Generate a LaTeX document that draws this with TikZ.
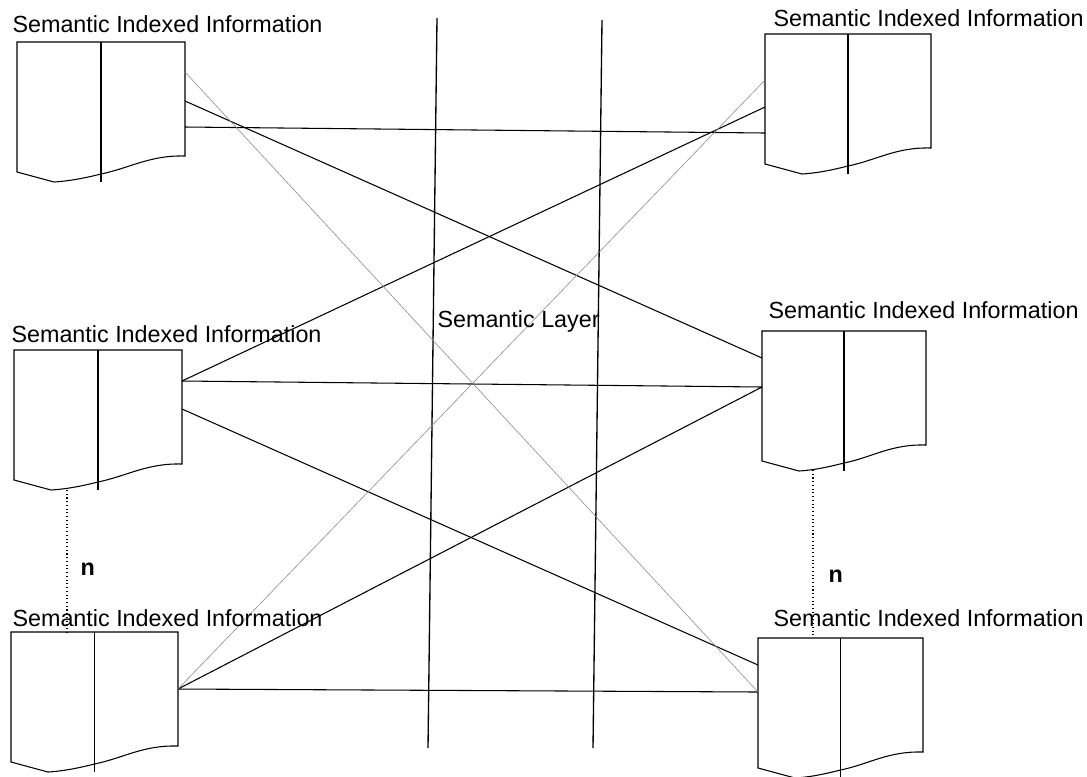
\documentclass[tikz,border=0pt]{standalone}
\usepackage{fontspec}
\setmainfont{Liberation Sans}

\tikzset{every picture/.style={line width=0.8pt}}
\tikzset{
	infotext/.style={font=\fontsize{17.5}{21}\selectfont, anchor=base west, inner sep=0pt},
	link/.style={draw=black, line width=0.8pt},
	faintlink/.style={draw=black!45, line width=0.45pt},
	layerline/.style={line width=1pt},
	moredocs/.style={dotted, line width=0.8pt},
}
% document symbol: left, top, width
\newcommand{\semdoc}[3]{%
	\begin{scope}[shift={(#1,#2)}]
		\draw (0,0) -- (#3,0) -- (#3,114) .. controls ({#3-35},113) and ({#3/2+29},126) .. ({#3/2},132) .. controls ({#3/2-16},136) and (53,139) .. (37,140) -- (0,130) -- cycle ;
		\draw ({#3/2},0) -- ({#3/2},140) ;
	\end{scope}}

\begin{document}
\begin{tikzpicture}[x=0.75pt,y=0.75pt,yscale=-1,xscale=1]
	\useasboundingbox (0,0) rectangle (1087,776);
	
	%Shape: Documents
	\semdoc{17}{42}{168}
	\semdoc{765}{34}{166}
	\semdoc{14}{350}{168}
	\semdoc{762}{331}{164}
	\semdoc{11}{632}{167}
	\semdoc{758}{638}{165}
	
	% connection points on the documents
	\coordinate (tl a) at (185,72);
	\coordinate (tl b) at (185,101);
	\coordinate (tl c) at (185,127);
	\coordinate (tr a) at (765,80);
	\coordinate (tr b) at (765,107);
	\coordinate (tr c) at (765,133);
	\coordinate (ml a) at (182,381);
	\coordinate (ml b) at (182,409);
	\coordinate (mr a) at (762,358);
	\coordinate (mr b) at (762,387);
	\coordinate (bl a) at (178,689);
	\coordinate (br a) at (758,665);
	\coordinate (br b) at (758,692);
	
	% layer borders
	\coordinate (lay1 top) at (437,18);
	\coordinate (lay1 bot) at (428,748);
	\coordinate (lay2 top) at (602,20);
	\coordinate (lay2 bot) at (593,748);
	\draw [layerline] (lay1 top) -- (lay1 bot) ;
	\draw [layerline] (lay2 top) -- (lay2 bot) ;
	
	%Straight Lines
	\draw [link] (tl b) -- (mr a) ;
	\draw [link] (tl c) -- (tr c) ;
	\draw [link] (ml a) -- (tr b) ;
	\draw [link] (ml a) -- (mr b) ;
	\draw [link] (ml b) -- (br a) ;
	\draw [link] (mr b) -- (bl a) ;
	\draw [link] (bl a) -- (br b) ;
	\draw [faintlink] (tl a) -- (br b) ;
	\draw [faintlink] (bl a) -- (tr a) ;
	
	% dotted: n documents in between
	\coordinate (ml dip) at (67,490);
	\coordinate (bl top) at (67,632);
	\coordinate (mr dip) at (813,470);
	\coordinate (br top) at (813,638);
	\draw [moredocs] (ml dip) -- (bl top) ;
	\draw [moredocs] (mr dip) -- (br top) ;
	
	% Text Node
	\node [infotext] (tl txt) at (12,32) {Semantic Indexed Information};
	% Text Node
	\node [infotext] (tr txt) at (773,26) {Semantic Indexed Information};
	% Text Node
	\node [infotext] (ml txt) at (11,342) {Semantic Indexed Information};
	% Text Node
	\node [infotext] (mr txt) at (768,318) {Semantic Indexed Information};
	% Text Node
	\node [infotext] (bl txt) at (12,626) {Semantic Indexed Information};
	% Text Node
	\node [infotext] (br txt) at (773,626) {Semantic Indexed Information};
	% Text Node
	\node [infotext] (layer txt) at (437,327) {Semantic Layer};
	% Text Node
	\node [infotext, font=\fontsize{17.5}{21}\selectfont\bfseries] (n left) at (80,575) {n};
	% Text Node
	\node [infotext, font=\fontsize{17.5}{21}\selectfont\bfseries] (n right) at (828,582) {n};
	
\end{tikzpicture}
\end{document}
